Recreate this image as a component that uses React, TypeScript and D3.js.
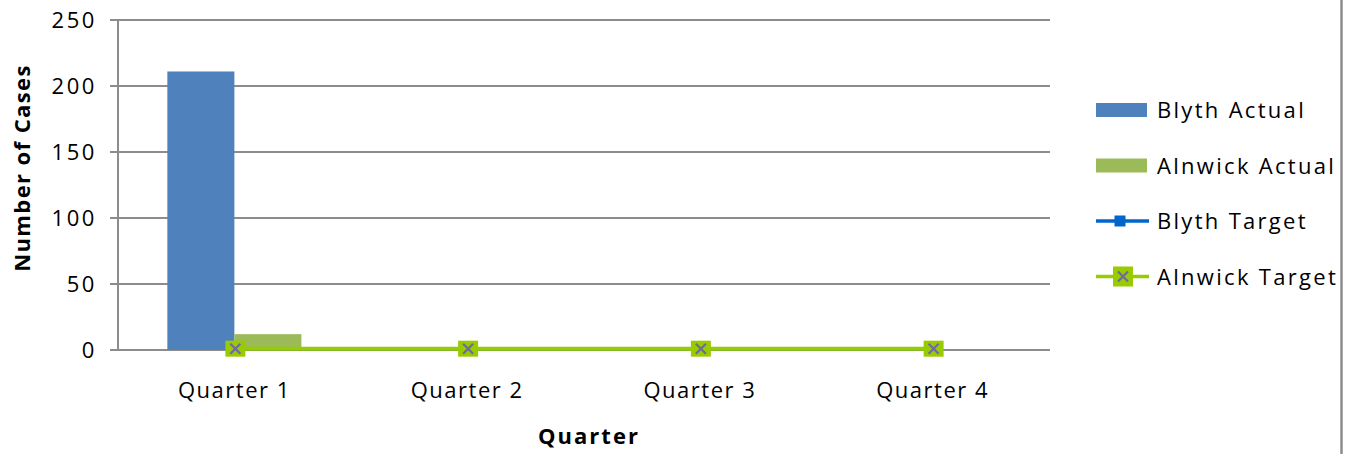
import React from "react";
import * as d3 from "d3";

const categories = ["Quarter 1", "Quarter 2", "Quarter 3", "Quarter 4"];
const blythActual = [211, 0, 0, 0];
const alnwickActual = [12, 0, 0, 0];
const blythTarget = [1, 1, 1, 1];
const alnwickTarget = [1, 1, 1, 1];
const yTicks = [0, 50, 100, 150, 200, 250];
const legendItems = ["Blyth Actual", "Alnwick Actual", "Blyth Target", "Alnwick Target"];

const W = 1351;
const H = 454;
const left = 119;
const right = 1050;
const top = 20;
const bottom = 350;
const FONT = "'Open Sans', 'DejaVu Sans', sans-serif";
const GRID = "#8C8C8C";
const BLUE = "#4F81BD";
const GREEN = "#9BBB59";
const LINE_BLUE = "#0066CC";
const LIME = "#99CC00";
const XMARK = "#6E68A8";

export default function App() {
  const x = d3.scaleBand<string>().domain(categories).range([left, right]).padding(0);
  const y = d3.scaleLinear().domain([0, 250]).range([bottom, top]);
  const bw = x.bandwidth();
  const groupW = bw * 0.576;
  const sub = d3
    .scaleBand<string>()
    .domain(["b", "a"])
    .range([(bw - groupW) / 2 - 1, (bw + groupW) / 2 - 1]);
  const cx = (c: string) => (x(c) as number) + bw / 2;
  const line = d3
    .line<number>()
    .x((_, i) => cx(categories[i]))
    .y((d) => y(d));

  const textStyle = { fontFamily: FONT, fontSize: 22, fill: "#000" } as const;

  const xMarker = (px: number, py: number, w: number, h: number, key: string) => (
    <g key={key}>
      <rect x={px - w / 2} y={py - h / 2} width={w} height={h} fill={LIME} />
      <path
        d={`M${px - 5},${py - 5}L${px + 5},${py + 5}M${px - 5},${py + 5}L${px + 5},${py - 5}`}
        stroke={XMARK}
        strokeWidth={2.2}
      />
    </g>
  );

  const legendY = (i: number) => 110 + i * 55.5;

  return (
    <svg
      width={W}
      height={H}
      style={{ position: "absolute", left: 0, top: 0, background: "#fff" }}
    >
      <rect x={0} y={0} width={W} height={H} fill="#fff" />
      {/* gridlines */}
      {yTicks.map((t) => (
        <g key={t}>
          <line x1={110} x2={right} y1={y(t)} y2={y(t)} stroke={GRID} strokeWidth={2} />
          <text
            x={97}
            y={y(t) + 8}
            textAnchor="end"
            style={{ ...textStyle, letterSpacing: "2.6px" }}
          >
            {t}
          </text>
        </g>
      ))}
      <line x1={118} x2={118} y1={top} y2={bottom} stroke={GRID} strokeWidth={2} />

      {/* bars */}
      {categories.map((c, i) => (
        <g key={c}>
          {blythActual[i] > 0 && (
            <rect
              x={(x(c) as number) + (sub("b") as number)}
              y={y(blythActual[i])}
              width={sub.bandwidth()}
              height={bottom - y(blythActual[i])}
              fill={BLUE}
            />
          )}
          {alnwickActual[i] > 0 && (
            <rect
              x={(x(c) as number) + (sub("a") as number)}
              y={y(alnwickActual[i])}
              width={sub.bandwidth()}
              height={bottom - y(alnwickActual[i])}
              fill={GREEN}
            />
          )}
        </g>
      ))}

      {/* target lines */}
      <path d={line(blythTarget) || ""} fill="none" stroke={LINE_BLUE} strokeWidth={3.5} />
      {blythTarget.map((v, i) => (
        <rect
          key={"bm" + i}
          x={cx(categories[i]) - 5.5}
          y={y(v) - 5.5}
          width={11}
          height={11}
          fill={LINE_BLUE}
        />
      ))}
      <path d={line(alnwickTarget) || ""} fill="none" stroke={LIME} strokeWidth={4} />
      {alnwickTarget.map((v, i) => xMarker(cx(categories[i]), y(v), 20, 16, "am" + i))}

      {/* x labels */}
      {categories.map((c) => (
        <text
          key={c}
          x={cx(c) - 1}
          y={398}
          textAnchor="middle"
          style={{ ...textStyle, letterSpacing: "1.5px" }}
        >
          {c}
        </text>
      ))}
      <text
        x={589}
        y={444}
        textAnchor="middle"
        style={{ ...textStyle, fontWeight: 700, letterSpacing: "2px" }}
      >
        Quarter
      </text>
      <text
        transform={`translate(30,168) rotate(-90)`}
        textAnchor="middle"
        style={{ ...textStyle, fontWeight: 700, letterSpacing: "1.4px" }}
      >
        Number of Cases
      </text>

      {/* legend */}
      {legendItems.map((name, i) => {
        const ly = legendY(i);
        let sym;
        if (i === 0) sym = <rect x={1096} y={ly - 7} width={51} height={14} fill={BLUE} />;
        else if (i === 1) sym = <rect x={1096} y={ly - 7} width={51} height={14} fill={GREEN} />;
        else if (i === 2)
          sym = (
            <g>
              <line x1={1096} x2={1149} y1={ly} y2={ly} stroke={LINE_BLUE} strokeWidth={3.5} />
              <rect x={1114.5} y={ly - 5.5} width={11} height={11} fill={LINE_BLUE} />
            </g>
          );
        else
          sym = (
            <g>
              <line x1={1096} x2={1149} y1={ly} y2={ly} stroke={LIME} strokeWidth={3.5} />
              {xMarker(1123, ly, 20, 20, "lm")}
            </g>
          );
        return (
          <g key={name}>
            {sym}
            <text x={1157} y={ly + 8} style={{ ...textStyle, letterSpacing: "2.3px" }}>
              {name}
            </text>
          </g>
        );
      })}

      {/* right border */}
      <line x1={1341.5} x2={1341.5} y1={0} y2={H} stroke={GRID} strokeWidth={2.5} />
    </svg>
  );
}
